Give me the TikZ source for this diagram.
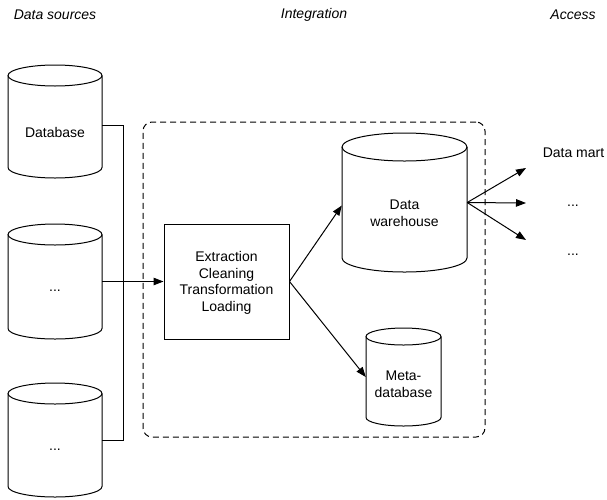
\documentclass[tikz,border=0pt]{standalone}
\usepackage{fontspec}
\setmainfont{Liberation Sans}
\usetikzlibrary{arrows.meta}

% Vertical database cylinder: #1 name, #2 left, #3 top, #4 right, #5 bottom, #6 ellipse y radius
\newcommand{\dbcyl}[6]{%
  \pgfmathsetmacro\cylcx{(#2+#4)/2}%
  \pgfmathsetmacro\cylcy{(#3+#5)/2}%
  \pgfmathsetmacro\cylrx{(#4-#2)/2}%
  \pgfmathsetmacro\cylw{#4-#2}%
  \pgfmathsetmacro\cylh{#5-#3}%
  \draw[shapeline] (#2,#3+#6) -- (#2,#5-#6)
    arc[start angle=180, end angle=360, x radius=\cylrx pt, y radius=#6 pt]
    -- (#4,#3+#6);
  \draw[shapeline] (\cylcx,#3+#6) ellipse[x radius=\cylrx pt, y radius=#6 pt];
  \node[inner sep=0pt, minimum width=\cylw pt, minimum height=\cylh pt] (#1) at (\cylcx,\cylcy) {};
}

\begin{document}
\begin{tikzpicture}[x=1pt, y=-1pt,
  shapeline/.style={line width=1pt, black},
  label/.style={font=\fontsize{14}{16.5}\selectfont, align=center, inner sep=0pt},
  header/.style={font=\fontsize{14}{16.5}\selectfont\itshape, inner sep=0pt},
  conn/.style={line width=1pt},
  arrow/.style={conn, -{Triangle[length=10pt, width=7.5pt]}},
  stagebox/.style={draw, line width=1pt, inner sep=0pt},
  groupbox/.style={draw, line width=1pt, dash pattern=on 6pt off 4pt, rounded corners=9pt, inner sep=0pt}]

\useasboundingbox (0,0) rectangle (607,499);

% Column headings
\node[header] (hsrc) at (55,15) {Data sources};
\node[header] (hint) at (314,15) {Integration};
\node[header] (hacc) at (573,15) {Access};

% Integration area
\node[groupbox, minimum width=342pt, minimum height=315pt] (integ) at (314,279.5) {};

% Data sources
\dbcyl{db1}{8}{65}{102}{178}{10.5}
\node[label] (db1t) at (55,132) {Database};
\dbcyl{db2}{8}{224}{102}{339}{10.5}
\node[label] (db2t) at (55,291) {...};
\dbcyl{db3}{8}{383}{102}{497}{10.5}
\node[label] (db3t) at (55,450) {...};

% ETL stage
\node[stagebox, minimum width=125pt, minimum height=115pt] (etl) at (226.5,281.5) {};
\node[label] (etlt) at (226.5,283) {Extraction\\Cleaning\\Transformation\\Loading};

% Warehouse and metadata store
\dbcyl{dw}{342}{133}{467}{272}{14}
\node[label] (dwt) at (404.5,213) {Data\\warehouse};
\dbcyl{meta}{366}{328}{441}{426}{8.5}
\node[label] (metat) at (403.5,384) {Meta-\\database};

% Access side
\node[label] (mart) at (573.5,153) {Data mart};
\node[label] (mart2) at (573,206) {...};
\node[label] (mart3) at (573,255) {...};
\coordinate (o1) at (526,168);
\coordinate (o2) at (526,203);
\coordinate (o3) at (526,240);

% Connectors
\draw[conn] ([yshift=-3.5pt]db1.east) -- ++(21,0) |- (db3.east);
\draw[arrow] (db2.east |- etl.west) -- (etl.west);
\draw[arrow] (etl.east) -- ([yshift=-3pt]dw.west);
\draw[arrow] (etl.east) -- (meta.west);
\draw[arrow] (dw.east) -- (o1);
\draw[arrow] (dw.east) -- (o2);
\draw[arrow] (dw.east) -- (o3);
\end{tikzpicture}
\end{document}
